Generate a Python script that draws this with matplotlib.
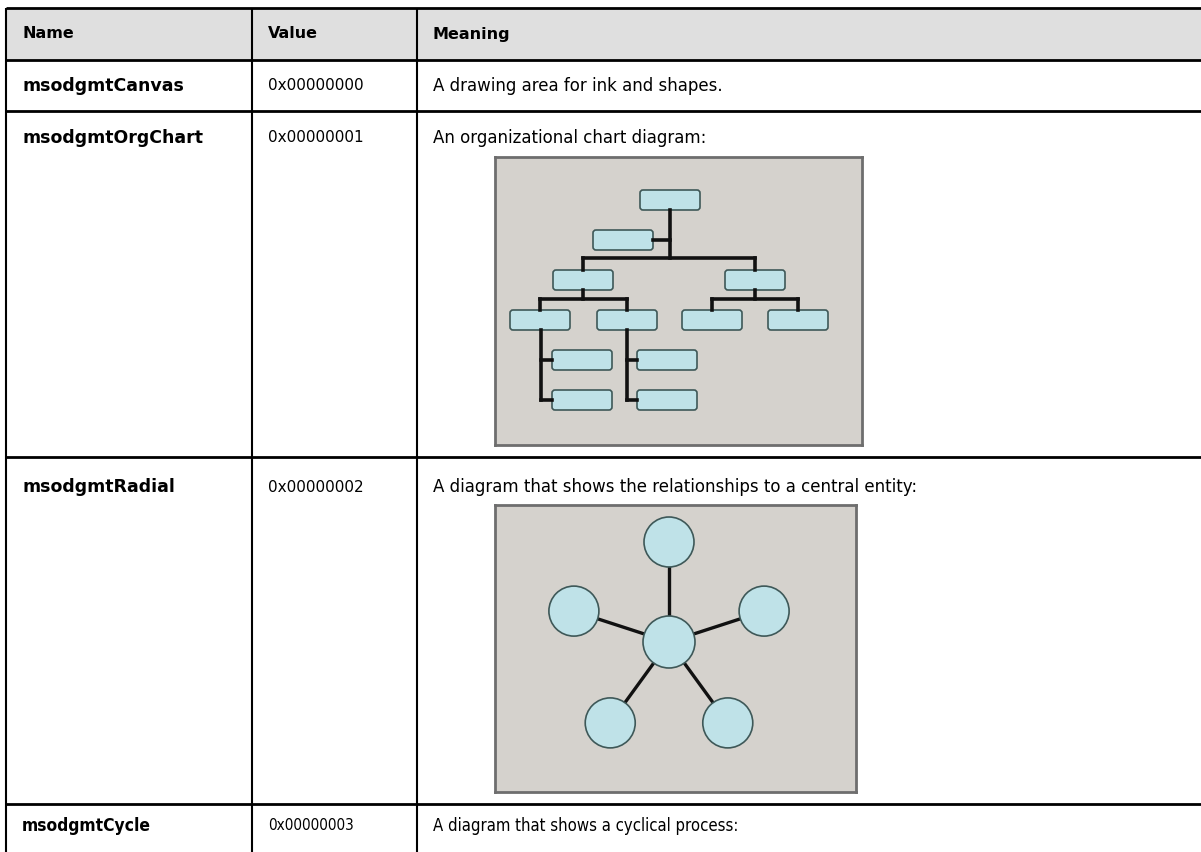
import numpy as np
import matplotlib.pyplot as plt
from matplotlib.patches import FancyBboxPatch, Circle, Rectangle

# Table content
headers = ["Name", "Value", "Meaning"]
names = ["msodgmtCanvas", "msodgmtOrgChart", "msodgmtRadial", "msodgmtCycle"]
values = ["0x00000000", "0x00000001", "0x00000002", "0x00000003"]
meanings = ["A drawing area for ink and shapes.",
            "An organizational chart diagram:",
            "A diagram that shows the relationships to a central entity:",
            "A diagram that shows a cyclical process:"]

# org chart nodes: (x, y) centres in diagram units, and connector segments
org_nodes = [(175, 43), (128, 83), (88, 123), (260, 123),
             (45, 163), (132, 163), (217, 163), (303, 163),
             (87, 203), (172, 203), (87, 243), (172, 243)]
org_links = [[(175, 53), (175, 101)], [(158, 83), (175, 83)],
             [(88, 101), (260, 101)], [(88, 101), (88, 113)], [(260, 101), (260, 113)],
             [(88, 133), (88, 142)], [(45, 142), (132, 142)], [(45, 142), (45, 153)], [(132, 142), (132, 153)],
             [(260, 133), (260, 142)], [(217, 142), (303, 142)], [(217, 142), (217, 153)], [(303, 142), (303, 153)],
             [(46, 173), (46, 243)], [(46, 203), (57, 203)], [(46, 243), (57, 243)],
             [(132, 173), (132, 243)], [(132, 203), (142, 203)], [(132, 243), (142, 243)]]

# radial: outer nodes on a ring
radial_angles = [90, 162, 18, 234, 306]
radial_dist = 100

# layout in pixels
W, H = 1201, 852
col_x = [6, 252, 417]
row_y = [8, 60, 111, 457, 804]
text_y = [34, 86, 138, 487, 826]
text_x = [22, 268, 433]

fig = plt.figure(figsize=(W / 100, H / 100), dpi=100)
ax = fig.add_axes([0, 0, 1, 1])
ax.set_xlim(0, W)
ax.set_ylim(H, 0)
ax.axis("off")

ax.add_patch(Rectangle((col_x[0], row_y[0]), W - col_x[0], row_y[1] - row_y[0],
                       facecolor="#dfdfdf", edgecolor="none"))
for y in row_y:
    ax.plot([col_x[0], W], [y, y], color="black", lw=2, solid_capstyle="butt")
for x in col_x:
    ax.plot([x, x], [row_y[0], H], color="black", lw=1.5, solid_capstyle="butt")

for i, h in enumerate(headers):
    ax.text(text_x[i], text_y[0], h, fontsize=11.5, fontweight="bold", va="center")
for r in range(4):
    kw = dict(fontstretch="condensed") if r == 3 else {}
    ax.text(text_x[0], text_y[r + 1], names[r], fontsize=12.5, fontweight="bold", va="center", **kw)
    ax.text(text_x[1], text_y[r + 1], values[r], fontsize=11, va="center", **kw)
    ax.text(text_x[2], text_y[r + 1], meanings[r], fontsize=12, va="center", **kw)

box_fc = "#bfe2e8"
box_ec = "#3e5858"
bg = "#d5d2cd"


def picture_axes(x0, y0, w, h):
    a = fig.add_axes([x0 / W, 1 - (y0 + h) / H, w / W, h / H])
    a.set_xlim(0, w)
    a.set_ylim(h, 0)
    a.set_facecolor(bg)
    a.set_xticks([])
    a.set_yticks([])
    for s in a.spines.values():
        s.set_color("#6e6e6e")
        s.set_linewidth(2)
    return a


# org chart picture
oa = picture_axes(495, 157, 367, 288)
for seg in org_links:
    xs, ys = zip(*seg)
    oa.plot(xs, ys, color="#111111", lw=2.6, solid_capstyle="projecting")
for cx, cy in org_nodes:
    oa.add_patch(FancyBboxPatch((cx - 30, cy - 10), 60, 20,
                                boxstyle="round,pad=0,rounding_size=3",
                                facecolor=box_fc, edgecolor=box_ec, lw=1.2))

# radial picture
ra = picture_axes(495, 505, 361, 287)
c0 = np.array([174, 137])
for ang in radial_angles:
    t = np.deg2rad(ang)
    p = c0 + radial_dist * np.array([np.cos(t), -np.sin(t)])
    ra.plot([c0[0], p[0]], [c0[1], p[1]], color="#111111", lw=2.4)
    ra.add_patch(Circle(p, 25, facecolor=box_fc, edgecolor=box_ec, lw=1.2, zorder=3))
ra.add_patch(Circle(c0, 26, facecolor=box_fc, edgecolor=box_ec, lw=1.2, zorder=3))

fig.savefig("out.png", dpi=100)
